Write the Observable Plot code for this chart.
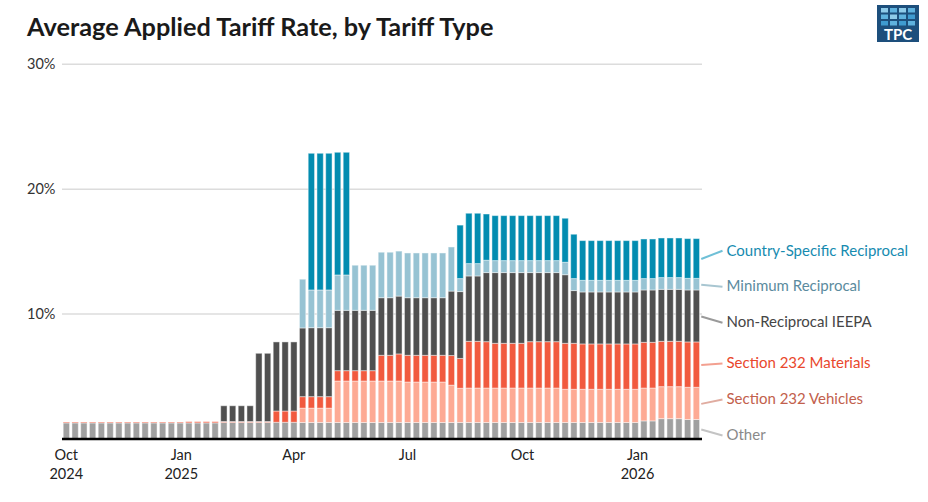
<!DOCTYPE html>
<html><head><meta charset="utf-8">
<script src="https://cdn.jsdelivr.net/npm/d3@7"></script>
<script src="https://cdn.jsdelivr.net/npm/@observablehq/plot@0.6"></script>
<style>
body{margin:0;background:#fff;font-family:Lato,sans-serif;}
#wrap{position:relative;width:928px;height:502px;overflow:hidden;}
#head{position:relative;height:50px;}
#title{position:absolute;left:27px;top:12px;font-weight:700;font-size:25.3px;line-height:29px;color:#1a1a1a;white-space:nowrap;}
#logo{position:absolute;left:877px;top:5px;}
</style></head><body>
<div id="wrap">
<div id="head">
<div id="title">Average Applied Tariff Rate, by Tariff Type</div>
<svg id="logo" width="42" height="37" viewBox="0 0 42 37">
<rect width="42" height="37" fill="#1d4f7c"/>
<g fill="#5fb2de">
<rect x="4" y="3" width="7" height="4.5" fill="#8fcbe9"/><rect x="13" y="3" width="7" height="4.5"/><rect x="22" y="3" width="7" height="4.5" fill="#8fcbe9"/><rect x="31" y="3" width="7" height="4.5"/>
<rect x="4" y="9.5" width="7" height="4.5"/><rect x="13" y="9.5" width="7" height="4.5" fill="#8fcbe9"/><rect x="22" y="9.5" width="7" height="4.5"/><rect x="31" y="9.5" width="7" height="4.5" fill="#3f9bd0"/>
<rect x="4" y="16" width="7" height="4.5" fill="#3f9bd0"/><rect x="13" y="16" width="7" height="4.5"/><rect x="22" y="16" width="7" height="4.5" fill="#3f9bd0"/><rect x="31" y="16" width="7" height="4.5"/>
</g>
<text x="21" y="35" text-anchor="middle" fill="#fff" font-family="Lato, sans-serif" font-weight="700" font-size="15">TPC</text>
</svg>
</div>
<div id="chart"></div>
</div>
<script>
const seriesNames = ["Other", "Section 232 Vehicles", "Section 232 Materials", "Non-Reciprocal IEEPA", "Minimum Reciprocal", "Country-Specific Reciprocal"];
const fillColors = ["#a0a0a0", "#fdaa94", "#f15a3f", "#505050", "#97c3d3", "#028cb0"];
const textColors = ["#8a8a8a", "#c2604c", "#e9472c", "#454545", "#5b8b9e", "#168bb0"];
const leaderColors = ["#c4c4c4", "#e0aca0", "#f3a090", "#9a9a9a", "#a8c6d1", "#6fc0d7"];

// weekly bars, Sep 28 2024 .. Feb 14 2026 (73 weeks)
const weeks = d3.utcDay.range(new Date(Date.UTC(2024, 8, 28)), new Date(Date.UTC(2026, 1, 15)), 7);

const other = [1.25,1.25,1.25,1.25,1.25,1.25,1.25,1.25,1.25,1.25,1.25,1.25,1.25,1.25,1.25,1.25,1.25,1.25,
  1.28,1.28,1.28,1.28,1.28,1.28,1.3,1.3,1.3,
  1.28,1.28,1.28,1.28,1.28,1.28,1.28,1.28,1.28,1.28,1.28,1.28,1.28,1.28,1.28,1.28,1.28,1.28,1.28,1.28,1.28,1.28,1.28,1.28,1.28,1.28,1.28,1.28,1.28,1.28,1.28,1.28,1.28,1.28,1.28,1.28,1.28,1.28,1.28,
  1.41,1.41,1.59,1.59,1.59,1.52,1.52];
const vehicles = [0,0,0,0,0,0,0,0,0,0,0,0,0,0,0,0,0,0,0,0,0,0,0,0,0,0,0,
  1.15,1.15,1.15,1.15,
  3.32,3.32,3.32,3.32,3.32,3.32,3.32,3.32,
  3.24,3.24,3.24,3.24,3.24,
  2.99,2.74,
  2.76,2.76,2.76,2.76,2.76,2.76,2.76,2.76,2.76,2.76,2.76,
  2.66,2.66,2.66,2.66,2.66,2.66,2.66,2.66,2.66,
  2.63,2.63,2.56,2.56,2.56,2.58,2.58];
const materials = [0.07,0.07,0.07,0.07,0.07,0.07,0.07,0.07,0.07,0.07,0.07,0.07,0.07,0.07,
  0.1,0.1,0.1,0.1,
  0.08,0.08,0.08,0.08,0.08,0.08,
  0.9,0.9,0.9,
  0.92,0.92,0.92,0.92,
  0.83,0.83,0.83,0.83,0.83,
  2.06,2.06,2.17,
  2.14,2.14,2.14,2.14,2.14,
  2.37,2.39,
  3.74,3.74,3.71,
  3.58,3.58,3.58,3.58,
  3.71,3.71,3.71,3.71,
  3.68,3.68,
  3.63,3.63,3.63,3.63,3.63,3.63,3.63,
  3.66,3.66,
  3.63,3.63,3.63,3.63,3.63];
const nonReciprocal = [0,0,0,0,0,0,0,0,0,0,0,0,0,0,0,0,0,0,
  1.26,1.26,1.26,1.26,
  5.46,5.46,
  5.53,5.53,5.53,
  5.5,
  5.52,5.52,5.52,
  4.83,4.83,4.83,4.83,4.83,
  4.61,4.61,4.63,
  4.61,4.61,4.61,4.61,4.61,
  5.16,5.35,
  5.23,5.23,5.53,
  5.66,5.66,5.66,5.66,
  5.53,5.53,5.53,5.53,
  5.49,4.22,
  4.16,4.16,4.16,4.16,4.16,4.16,4.16,
  4.19,4.19,
  4.16,4.16,4.16,4.16,4.16];
const minimum = [0,0,0,0,0,0,0,0,0,0,0,0,0,0,0,0,0,0,0,0,0,0,0,0,0,0,0,
  3.9,
  3.02,3.02,3.02,
  2.83,2.83,
  3.61,3.61,3.61,
  3.64,3.64,3.6,
  3.58,3.58,3.58,3.58,3.58,
  3.53,1.04,
  0.99,0.99,0.99,
  0.96,0.96,0.96,0.96,0.96,0.96,0.96,0.96,
  1.0,0.96,
  0.93,0.93,0.93,0.93,0.93,0.93,0.93,
  0.91,0.91,
  0.94,0.94,0.94,
  0.93,0.93];
const countrySpecific = [0,0,0,0,0,0,0,0,0,0,0,0,0,0,0,0,0,0,0,0,0,0,0,0,0,0,0,0,
  10.94,10.94,10.94,
  9.82,9.82,
  0,0,0,0,0,0,0,0,0,0,0,0,
  4.28,
  4.03,4.03,3.7,
  3.6,3.6,3.6,3.6,3.6,3.6,3.6,3.6,
  3.52,3.55,
  3.18,3.18,3.18,3.18,3.18,3.18,3.18,
  3.17,3.17,
  3.17,3.17,3.17,
  3.18,3.18];

const valuesBySeries = [other, vehicles, materials, nonReciprocal, minimum, countrySpecific];

const tickDates = [new Date(Date.UTC(2024, 9, 1)), new Date(Date.UTC(2025, 0, 1)), new Date(Date.UTC(2025, 3, 1)),
  new Date(Date.UTC(2025, 6, 1)), new Date(Date.UTC(2025, 9, 1)), new Date(Date.UTC(2026, 0, 1))];
const tickLabels = ["Oct\n2024", "Jan\n2025", "Apr", "Jul", "Oct", "Jan\n2026"];
const yTicks = [10, 20, 30];

// long table for stacking
const rows = [];
weeks.forEach((d, i) => {
  seriesNames.forEach((s, j) => {
    const v = valuesBySeries[j][i];
    if (v > 0) rows.push({x1: d, x2: d3.utcDay.offset(d, 7), series: s, value: v});
  });
});

// direct labels: leader from midpoint of last bar's segment to dodged label position
const last = weeks.length - 1;
const lastEnd = d3.utcDay.offset(weeks[last], 7);
const labelX = d3.utcDay.offset(lastEnd, 17);
let cum = 0;
const mids = valuesBySeries.map(a => { const m = cum + a[last] / 2; cum += a[last]; return m; });
const gap = 2.88;
const labelPos = mids.slice();
for (let k = 0; k < 300; k++) {
  for (let i = 0; i < labelPos.length - 1; i++) {
    const d = labelPos[i + 1] - labelPos[i];
    if (d < gap) { const s = (gap - d) / 2; labelPos[i] -= s; labelPos[i + 1] += s; }
  }
}

const labelMarks = seriesNames.flatMap((s, j) => [
  Plot.link([0], {x1: () => lastEnd, y1: () => mids[j], x2: () => labelX, y2: () => labelPos[j],
    stroke: leaderColors[j], strokeWidth: 2}),
  Plot.text([0], {x: () => labelX, y: () => labelPos[j], text: () => s, fill: textColors[j],
    textAnchor: "start", dx: 4, fontSize: 15})
]);

const chart = Plot.plot({
  width: 928,
  height: 452,
  marginTop: 13.7,
  marginBottom: 63.5,
  marginLeft: 62,
  marginRight: 226,
  style: {fontFamily: "Lato, sans-serif", fontSize: "14px", background: "white", overflow: "visible"},
  x: {type: "utc", domain: [new Date(Date.UTC(2024, 8, 28)), new Date(Date.UTC(2026, 1, 22))]},
  y: {domain: [0, 30]},
  color: {domain: seriesNames, range: fillColors},
  marks: [
    Plot.ruleY(yTicks, {stroke: "#dcdcdc", strokeWidth: 1.5}),
    Plot.rectY(rows, {x1: "x1", x2: "x2", y: "value", fill: "series",
      insetLeft: 1.2, insetRight: 1.2, stroke: "white", strokeOpacity: 0.45, strokeWidth: 1}),
    Plot.ruleY([0], {stroke: "#000", strokeWidth: 2.5}),
    Plot.axisY({ticks: yTicks, tickFormat: d => d + "%", tickSize: 0, tickPadding: 7, fontSize: 14.5, color: "#333", label: null}),
    Plot.axisX({ticks: tickDates, tickFormat: d => tickLabels[tickDates.findIndex(t => +t === +d)],
      tickSize: 0, tickPadding: 8, fontSize: 14.5, lineHeight: 1.3, color: "#222", label: null}),
    ...labelMarks
  ]
});
document.getElementById("chart").appendChild(chart);
</script>
</body></html>
